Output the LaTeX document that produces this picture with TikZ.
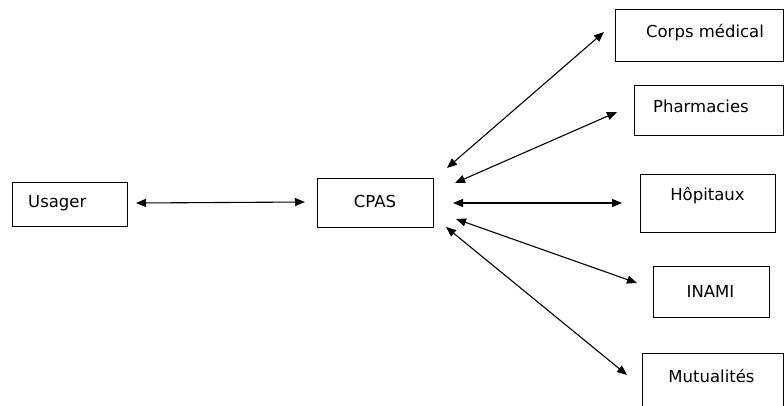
\documentclass[tikz,border=0pt]{standalone}
\usepackage{fontspec}
\setmainfont{DejaVu Sans}
\usetikzlibrary{arrows.meta}
\begin{document}
\begin{tikzpicture}[x=1bp,y=-1bp,
  boxn/.style={draw=black,line width=1bp,inner sep=0pt},
  txt/.style={font=\fontsize{16.5bp}{18bp}\selectfont,inner sep=0pt,anchor=base},
  link/.style={line width=1.1bp,{Triangle[length=10bp,width=8bp]}-{Triangle[length=10bp,width=8bp]}}]
\useasboundingbox (0,0) rectangle (784,405);
\clip (0,0) rectangle (784,405);
% boxes
\node[boxn,minimum width=114bp,minimum height=44bp] (usager) at (70,204) {};
\node[boxn,minimum width=116bp,minimum height=49bp] (cpas) at (375,202.5) {};
\node[boxn,minimum width=168bp,minimum height=52bp] (corps) at (699,35) {};
\node[boxn,minimum width=149bp,minimum height=50bp] (pharma) at (708.5,110) {};
\node[boxn,minimum width=135bp,minimum height=58bp] (hopi) at (707.5,203) {};
\node[boxn,minimum width=116bp,minimum height=51bp] (inami) at (711,291.5) {};
\node[boxn,minimum width=141bp,minimum height=67bp] (mutu) at (712.5,386.5) {};
% texts
\node[txt,anchor=base west] (tusager) at (28,207) {Usager};
\node[txt] (tcpas) at (375,207) {CPAS};
\node[txt] (tcorps) at (705,37) {Corps médical};
\node[txt] (tpharma) at (701,112) {Pharmacies};
\node[txt] (thopi) at (707.5,200) {Hôpitaux};
\node[txt] (tinami) at (710.5,297) {INAMI};
\node[txt] (tmutu) at (711.5,382) {Mutualités};
% arrow end points
\coordinate (u1) at (136,203);
\coordinate (c0) at (305,202);
\coordinate (c1) at (447,168);
\coordinate (e1) at (604,32);
\coordinate (c2) at (455,183);
\coordinate (e2) at (617,112);
\coordinate (c3) at (453,203);
\coordinate (e3) at (622,203);
\coordinate (c4) at (456,219);
\coordinate (e4) at (637,283);
\coordinate (c5) at (446,227);
\coordinate (e5) at (627,375);
\draw[link] (u1) -- (c0);
\draw[link] (c1) -- (e1);
\draw[link] (c2) -- (e2);
\draw[link] (c3) -- (e3);
\draw[link] (c4) -- (e4);
\draw[link] (c5) -- (e5);
\end{tikzpicture}
\end{document}
